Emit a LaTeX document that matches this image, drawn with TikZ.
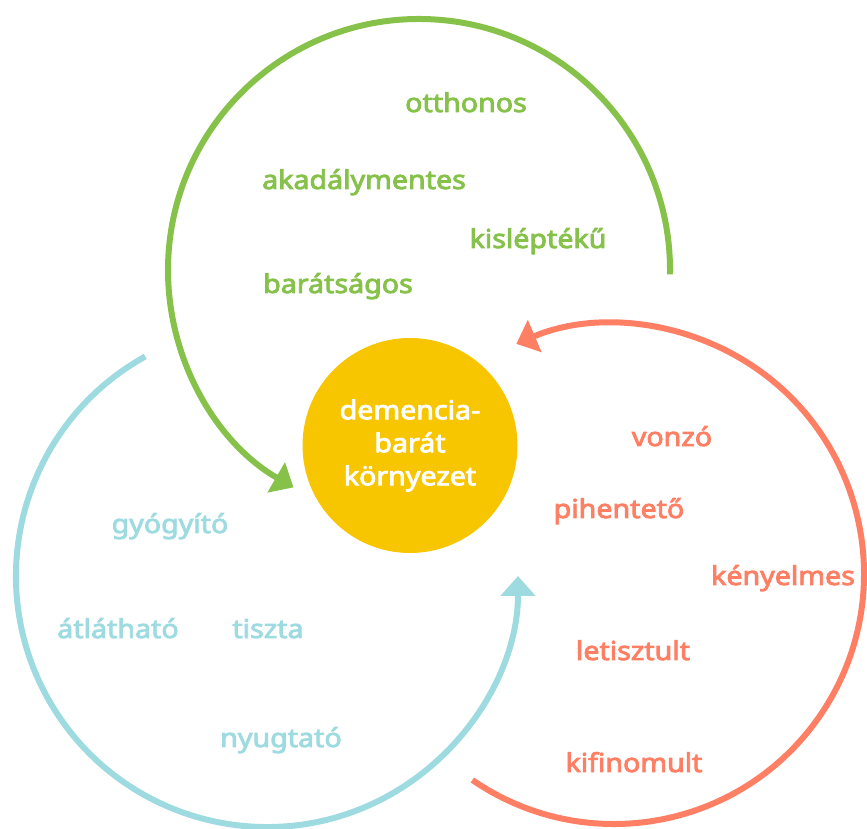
\documentclass[tikz,border=0pt]{standalone}
\usepackage{fontspec}
\newfontfamily\heavysans{Noto Sans}[FakeBold=3.2, FakeStretch=1.1]
\usetikzlibrary{arrows.meta,positioning}
\definecolor{leafgreen}{HTML}{86C14A}
\definecolor{coral}{HTML}{FF7F64}
\definecolor{skyblue}{HTML}{9EDBE0}
\definecolor{amber}{HTML}{F7C600}
\tikzset{
  ring/.style={line width=6pt, -{Triangle[length=20pt,width=34pt]}},
  word/.style={anchor=base, inner sep=0pt, font=\heavysans\fontsize{26}{30}\selectfont},
  hub/.style={circle, fill=amber, minimum size=215pt, inner sep=0pt, align=center, text=white, font=\heavysans\fontsize{26}{33}\selectfont}
}

\begin{document}
\begin{tikzpicture}[x=1pt, y=1pt]
\useasboundingbox (0,0) rectangle (867,829);
\coordinate (gc) at (419,559);
\coordinate (rc) at (614,255);
\coordinate (bc) at (267,253);
\node[hub] (hub) at (410,383.5) {demencia-\\barát\\környezet};
% the three rings
\draw[ring, leafgreen] ([shift={(-1:251pt)}]gc) arc[start angle=-1, end angle=240, radius=251pt];
\draw[ring, coral] ([shift={(235.5:250pt)}]rc) arc[start angle=235.5, end angle=473, radius=250pt];
\draw[ring, skyblue] ([shift={(119:251pt)}]bc) arc[start angle=119, end angle=360, radius=251pt];
% green words
\node[word, leafgreen] (otthonos) at (466,717) {otthonos};
\node[word, leafgreen] (akadaly) at (364,640) {akadálymentes};
\node[word, leafgreen] (kislep) at (538,581) {kisléptékű};
\node[word, leafgreen] (baratsag) at (338,536) {barátságos};
% coral words
\node[word, coral] (vonzo) at (672,383) {vonzó};
\node[word, coral] (piheno) at (619,311) {pihentető};
\node[word, coral] (kenyelmes) at (783,244) {kényelmes};
\node[word, coral] (letisztult) at (633,169) {letisztult};
\node[word, coral] (kifinomult) at (634,57) {kifinomult};
% blue words
\node[word, skyblue] (gyogyito) at (170,296) {gyógyító};
\node[word, skyblue] (atlathato) at (118,191) {átlátható};
\node[word, skyblue] (tiszta) at (268,191) {tiszta};
\node[word, skyblue] (nyugtato) at (281,82) {nyugtató};
\end{tikzpicture}
\end{document}
